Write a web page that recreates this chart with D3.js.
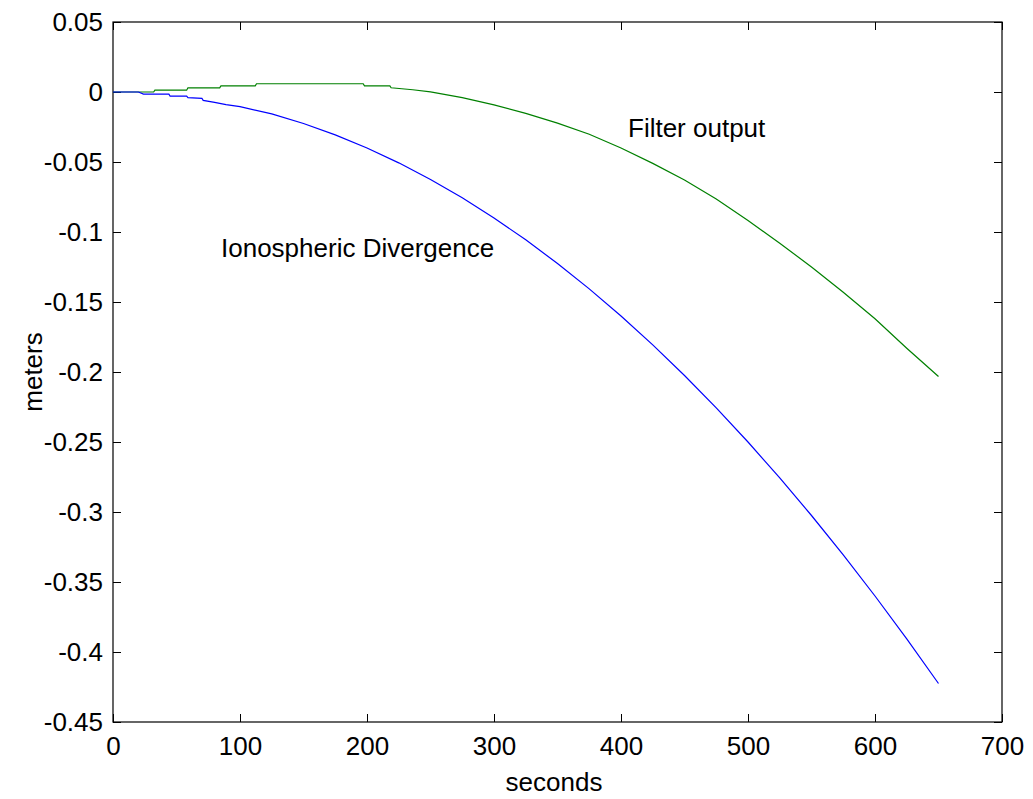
<!DOCTYPE html>
<html>
<head>
<meta charset="utf-8">
<script src="https://cdn.jsdelivr.net/npm/d3@7"></script>
<style>
  html, body { margin: 0; padding: 0; background: #fff; }
  svg { display: block; }
  text { font-family: "Liberation Sans", Arial, Helvetica, sans-serif; fill: #000; }
</style>
</head>
<body>
<svg id="chart" width="1033" height="799"></svg>
<script>
// ---- data ----
const xTicks = [0, 100, 200, 300, 400, 500, 600, 700];
const yTicks = [0.05, 0, -0.05, -0.1, -0.15, -0.2, -0.25, -0.3, -0.35, -0.4, -0.45];
const yTickLabels = ["0.05", "0", "-0.05", "-0.1", "-0.15", "-0.2", "-0.25", "-0.3", "-0.35", "-0.4", "-0.45"];

const divergenceTime = [0, 20, 24, 44, 45, 58, 59, 70, 71, 80, 89, 100, 125, 150, 175, 200, 225, 250, 275, 300, 325, 350, 375, 400, 425, 450, 475, 500, 525, 550, 575, 600, 625, 650];
const divergenceValue = [0, 0, -0.0015, -0.0015, -0.003, -0.003, -0.004, -0.0045, -0.006, -0.0074, -0.009, -0.0105, -0.0156, -0.0225, -0.0306, -0.0400, -0.0506, -0.0625, -0.0756, -0.0900, -0.1056, -0.1225, -0.1406, -0.1600, -0.1806, -0.2025, -0.2256, -0.2500, -0.2756, -0.3025, -0.3306, -0.3600, -0.3906, -0.4225];

const filterTime = [0, 32, 33, 58, 59, 84, 85, 112, 113, 197, 198, 218, 219, 236, 250, 275, 300, 325, 350, 375, 400, 425, 450, 475, 500, 525, 550, 575, 600, 625, 650];
const filterValue = [0, 0, 0.0013, 0.0013, 0.003, 0.003, 0.0044, 0.0044, 0.0059, 0.0059, 0.0044, 0.0044, 0.003, 0.0016, 0.0001, -0.0040, -0.0092, -0.0153, -0.0222, -0.0302, -0.0400, -0.0510, -0.0628, -0.0765, -0.0918, -0.1080, -0.1250, -0.1430, -0.1620, -0.1830, -0.2032];

const seriesNames = ["Ionospheric Divergence", "Filter output"];
const xLabel = "seconds";
const yLabel = "meters";

// ---- layout ----
const svg = d3.select("#chart");
const L = 113, R = 1002, T = 22, B = 722;
const x = d3.scaleLinear().domain([0, 700]).range([L, R]);
const y = d3.scaleLinear().domain([-0.45, 0.05]).range([B, T]);
const fs = 26;

// box
svg.append("rect").attr("x", L).attr("y", T).attr("width", R - L).attr("height", B - T)
  .attr("fill", "none").attr("stroke", "#000").attr("stroke-width", 1.2);

// axes (ticks inward)
const tl = 8;
const gx = svg.append("g").attr("transform", `translate(0,${B})`)
  .call(d3.axisBottom(x).tickValues(xTicks).tickSizeInner(-tl).tickSizeOuter(0).tickPadding(15).tickFormat(d3.format("d")));
const gxt = svg.append("g").attr("transform", `translate(0,${T})`)
  .call(d3.axisTop(x).tickValues(xTicks).tickSizeInner(-tl).tickSizeOuter(0).tickFormat(""));
const gy = svg.append("g").attr("transform", `translate(${L},0)`)
  .call(d3.axisLeft(y).tickValues(yTicks).tickSizeInner(-tl).tickSizeOuter(0).tickPadding(10)
    .tickFormat((d, i) => yTickLabels[i]));
const gyr = svg.append("g").attr("transform", `translate(${R},0)`)
  .call(d3.axisRight(y).tickValues(yTicks).tickSizeInner(-tl).tickSizeOuter(0).tickFormat(""));

[gx, gxt, gy, gyr].forEach(g => {
  g.select(".domain").remove();
  g.selectAll("line").attr("stroke", "#000").attr("stroke-width", 1);
  g.selectAll("text").attr("font-size", fs).attr("font-family", "Liberation Sans, Arial, sans-serif").attr("fill", "#000");
});

// lines
const line = d3.line().x(d => x(d[0])).y(d => y(d[1]));
const divData = divergenceTime.map((t, i) => [t, divergenceValue[i]]);
const filData = filterTime.map((t, i) => [t, filterValue[i]]);

svg.append("path").datum(filData).attr("d", line)
  .attr("fill", "none").attr("stroke", "#008000").attr("stroke-width", 1.2);
svg.append("path").datum(divData).attr("d", line)
  .attr("fill", "none").attr("stroke", "#0000ff").attr("stroke-width", 1.2);

// annotations
svg.append("text").attr("x", 221).attr("y", 257).attr("font-size", fs).text(seriesNames[0]);
svg.append("text").attr("x", 628).attr("y", 137).attr("font-size", fs).text(seriesNames[1]);

// axis labels
svg.append("text").attr("x", 554).attr("y", 791).attr("text-anchor", "middle")
  .attr("font-size", fs).text(xLabel);
svg.append("text").attr("transform", `translate(42,${(T + B) / 2}) rotate(-90)`)
  .attr("text-anchor", "middle").attr("font-size", fs).text(yLabel);
</script>
</body>
</html>
